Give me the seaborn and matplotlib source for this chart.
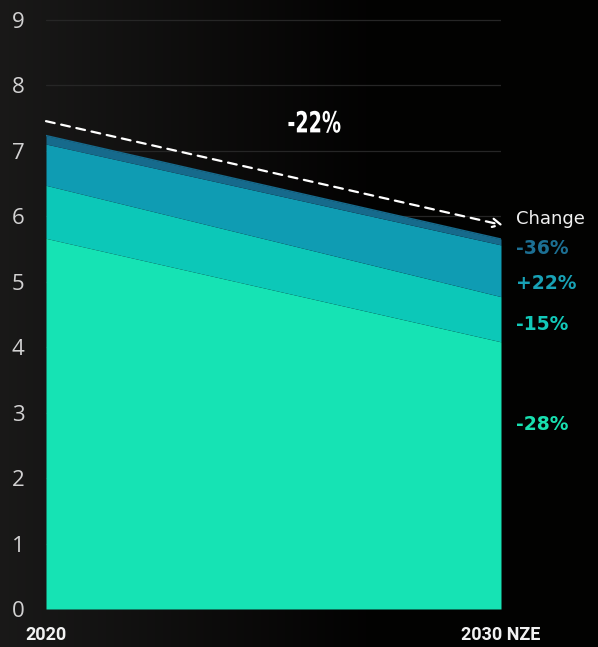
import numpy as np
import pandas as pd
import matplotlib
matplotlib.use("Agg")
import matplotlib.pyplot as plt
import seaborn as sns
from matplotlib.textpath import TextPath
from matplotlib.patches import PathPatch
from matplotlib.font_manager import FontProperties
from matplotlib.transforms import Affine2D, IdentityTransform

# ---- data ----
years = ["2020", "2030 NZE"]
layer_names = ["Layer A", "Layer B", "Layer C", "Layer D"]  # bottom -> top
layer_a = [5.66, 4.08]
layer_b = [0.81, 0.69]
layer_c = [0.63, 0.79]
layer_d = [0.13, 0.09]
changes = ["-28%", "-15%", "+22%", "-36%"]
total_change = "-22%"
trend_start = 7.45
trend_end = 5.86
y_ticks = [0, 1, 2, 3, 4, 5, 6, 7, 8, 9]

colors = ["#16e3b4", "#0cc8b8", "#0f9cb3", "#166a8c"]
label_colors = ["#18e0b0", "#12c9b9", "#18a2b6", "#1c6f93"]

sns.set_theme(style="dark")
plt.rcParams["font.family"] = ["Roboto", "DejaVu Sans"]

W, H = 598, 647
fig = plt.figure(figsize=(W / 100, H / 100), dpi=100)
fig.patch.set_facecolor("#050505")

# background gradient
bg = fig.add_axes([0, 0, 1, 1], zorder=0)
gx = np.linspace(0, 1, 300)
gy = np.linspace(0, 1, 300)
GX, GY = np.meshgrid(gx, gy)
val = np.clip(1 - GX * 1.6, 0, 1) * 0.09
img = np.zeros((300, 300, 3))
img[..., 0] = val + 0.01
img[..., 1] = val + 0.008
img[..., 2] = val + 0.006
bg.imshow(img, aspect="auto", extent=[0, 1, 0, 1])
bg.axis("off")

x = [0, 1]
df = pd.DataFrame({"x": x, "A": layer_a, "B": layer_b, "C": layer_c, "D": layer_d})

ax = fig.add_axes([46 / W, (H - 609) / H, 455 / W, 609 / H], zorder=1)
ax.set_facecolor("none")
ax.set_xlim(0, 1)
ax.set_ylim(0, 9.3)
ax.set_yticks(y_ticks)
for yv in y_ticks[1:]:
    ax.axhline(yv, color="#262626", lw=0.9, zorder=0.5)
ax.grid(False)

ax.stackplot(df["x"], df["A"], df["B"], df["C"], df["D"], colors=colors, zorder=2, lw=0)
tops = np.array(layer_a) + np.array(layer_b) + np.array(layer_c) + np.array(layer_d)
sns.lineplot(x=x, y=tops, ax=ax, color=colors[3], lw=1.0, zorder=3)

for s in ax.spines.values():
    s.set_visible(False)

ax.set_xticks([0, 1])
ax.set_xticklabels(years, fontsize=13, fontweight="bold", color="#f2f2f2")
ax.tick_params(axis="x", length=0, pad=12)
ax.tick_params(axis="y", length=0, pad=15.5)
ax.set_yticklabels([str(v) for v in y_ticks], fontsize=16, color="#d2d2d2",
                   family=["Open Sans", "DejaVu Sans"], fontweight="normal")

# trend arrow
ax.annotate("", xy=(1.005, trend_end), xytext=(0.0, trend_start),
            arrowprops=dict(arrowstyle="->", color="white", lw=1.6,
                            linestyle=(0, (4, 3)), mutation_scale=15,
                            shrinkA=0, shrinkB=0), zorder=4, annotation_clip=False)

# condensed "-22%" label drawn as a horizontally compressed text path
fig.canvas.draw()
tp = TextPath((0, 0), total_change, size=30,
              prop=FontProperties(family="DejaVu Sans", weight="bold"))
ext = tp.get_extents()
cx_pix, cy_pix = ax.transData.transform((0.59, 7.44))
sx = 52.0 / ext.width
sy = 22.0 / ext.height
tr = (Affine2D().translate(-(ext.x0 + ext.width / 2), -(ext.y0 + ext.height / 2))
      .scale(sx, sy).translate(cx_pix, cy_pix))
patch = PathPatch(tr.transform_path(tp), facecolor="white", edgecolor="none",
                  transform=IdentityTransform(), zorder=5)
fig.add_artist(patch)

# right labels
ax.text(1.034, 5.95, "Change", color="#f0f0f0", fontsize=13, ha="left", va="center",
        family=["DejaVu Sans"], clip_on=False)
label_y = [2.81, 4.34, 4.97, 5.51]
for lab, yy, c in zip(changes, label_y, label_colors):
    ax.text(1.034, yy, lab, color=c, fontsize=13.5, fontweight="bold", ha="left",
            va="center", family=["DejaVu Sans"], clip_on=False)

fig.savefig("out.png", dpi=100, facecolor=fig.get_facecolor())
